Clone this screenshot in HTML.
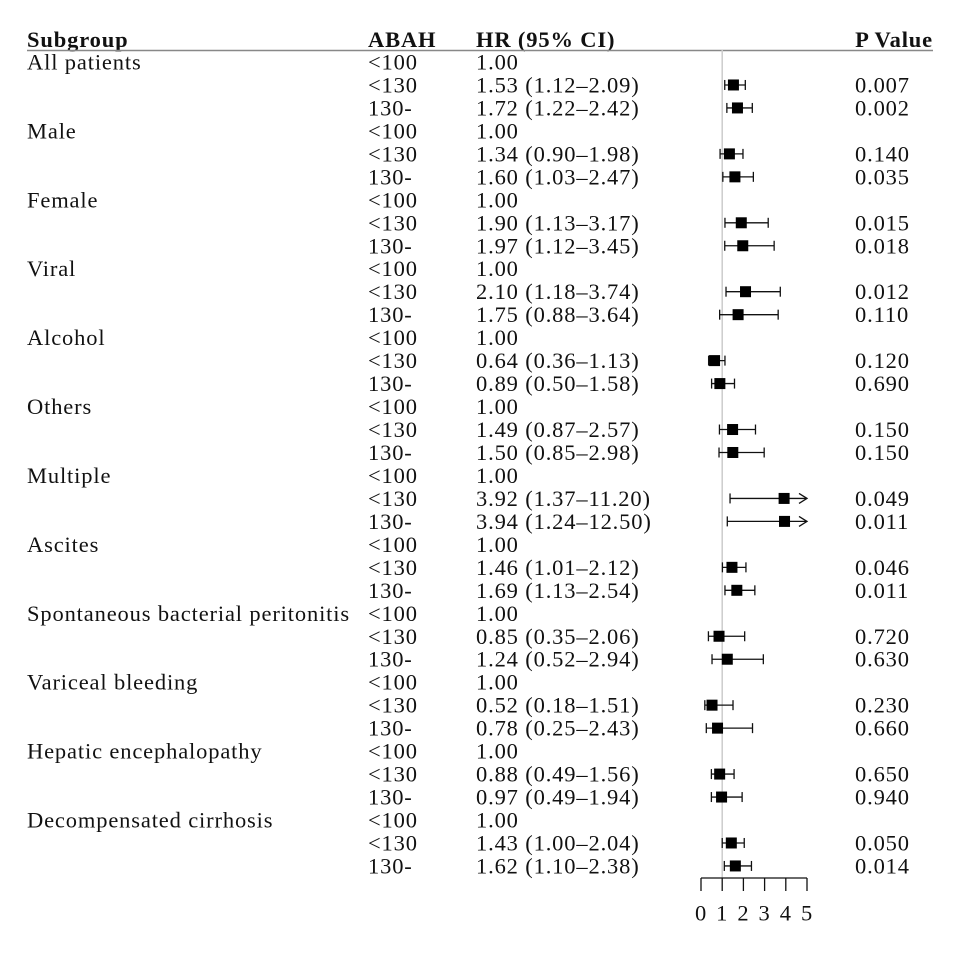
<!DOCTYPE html>
<html><head><meta charset="utf-8"><style>
html,body{margin:0;padding:0;background:#fff}
svg text{font-family:"Liberation Serif",serif;font-size:22.5px;fill:#111;letter-spacing:0.85px}
</style></head><body>
<svg id="chart" width="960" height="960" viewBox="0 0 960 960" xmlns="http://www.w3.org/2000/svg">
<g>
<text x="27" y="47" font-weight="bold">Subgroup</text>
<text x="368" y="47" font-weight="bold">ABAH</text>
<text x="476" y="47" font-weight="bold">HR (95% CI)</text>
<text x="933" y="47" font-weight="bold" text-anchor="end">P Value</text>
<line x1="27" y1="50.5" x2="933" y2="50.5" stroke="#888" stroke-width="1.5"/>
</g>
<g id="rows"></g>
<g id="plot"></g>
</svg>
<script>
const groups=["All patients","Male","Female","Viral","Alcohol","Others","Multiple","Ascites","Spontaneous bacterial peritonitis","Variceal bleeding","Hepatic encephalopathy","Decompensated cirrhosis"];
const levels=["<100","<130","130-"];
const hr=[1.53,1.72,1.34,1.60,1.90,1.97,2.10,1.75,0.64,0.89,1.49,1.50,3.92,3.94,1.46,1.69,0.85,1.24,0.52,0.78,0.88,0.97,1.43,1.62];
const lo=[1.12,1.22,0.90,1.03,1.13,1.12,1.18,0.88,0.36,0.50,0.87,0.85,1.37,1.24,1.01,1.13,0.35,0.52,0.18,0.25,0.49,0.49,1.00,1.10];
const hi=[2.09,2.42,1.98,2.47,3.17,3.45,3.74,3.64,1.13,1.58,2.57,2.98,11.20,12.50,2.12,2.54,2.06,2.94,1.51,2.43,1.56,1.94,2.04,2.38];
const pv=["0.007","0.002","0.140","0.035","0.015","0.018","0.012","0.110","0.120","0.690","0.150","0.150","0.049","0.011","0.046","0.011","0.720","0.630","0.230","0.660","0.650","0.940","0.050","0.014"];
const ticks=[0,1,2,3,4,5];
const NS="http://www.w3.org/2000/svg";
const x=v=>701+v*21.2;
const rowY=i=>62+i*22.97;
const rows=document.getElementById('rows'),plot=document.getElementById('plot');
function mk(tag,attrs,parent){const e=document.createElementNS(NS,tag);for(const k in attrs)e.setAttribute(k,attrs[k]);parent.appendChild(e);return e;}
function txt(s,xx,yy,anchor,parent){const t=mk('text',{x:xx,y:yy+7.5,'text-anchor':anchor||'start'},parent);t.textContent=s;return t;}
const ref=mk('line',{x1:x(1),y1:50,x2:x(1),y2:878,stroke:'#ccc','stroke-width':1.5},plot);


let r=0,k=0;
groups.forEach((g,gi)=>{
  levels.forEach((lv,li)=>{
    const y=rowY(r);
    if(li===0){const t=txt(g,27,y,'start',rows);
      
      }
    const a=txt(lv,368,y,'start',rows);
    
    
    if(li===0){const h=txt('1.00',476,y,'start',rows);
      
      }
    else{
      const h=txt(hr[k].toFixed(2)+' ('+lo[k].toFixed(2)+'–'+hi[k].toFixed(2)+')',476,y,'start',rows);
      
      
      const p=txt(pv[k],855,y,'start',rows);
      
      
      const gg=mk('g',{},plot);
      
      
      const x1=x(lo[k]),clip=hi[k]>5,x2=clip?x(5):x(hi[k]);
      mk('line',{x1:x1,y1:y,x2:x2,y2:y,stroke:'#111','stroke-width':1.3},gg);
      mk('line',{x1:x1,y1:y-5,x2:x1,y2:y+5,stroke:'#111','stroke-width':1.3},gg);
      if(clip)mk('polyline',{points:`${x2-8},${y-5} ${x2},${y} ${x2-8},${y+5}`,fill:'none',stroke:'#111','stroke-width':1.3},gg);
      else mk('line',{x1:x2,y1:y-5,x2:x2,y2:y+5,stroke:'#111','stroke-width':1.3},gg);
      mk('rect',{x:x(hr[k])-5.5,y:y-5.5,width:11,height:11,fill:'#000'},gg);
      k++;
    }
    r++;
  });
});
const ax=mk('g',{},plot);


mk('line',{x1:x(0),y1:878,x2:x(5),y2:878,stroke:'#111','stroke-width':1.3},ax);
ticks.forEach(t=>{
  mk('line',{x1:x(t),y1:878,x2:x(t),y2:891,stroke:'#111','stroke-width':1.3},ax);
  const l=txt(String(t),x(t),913,'middle',ax);
  
  
});
</script>
</body></html>
